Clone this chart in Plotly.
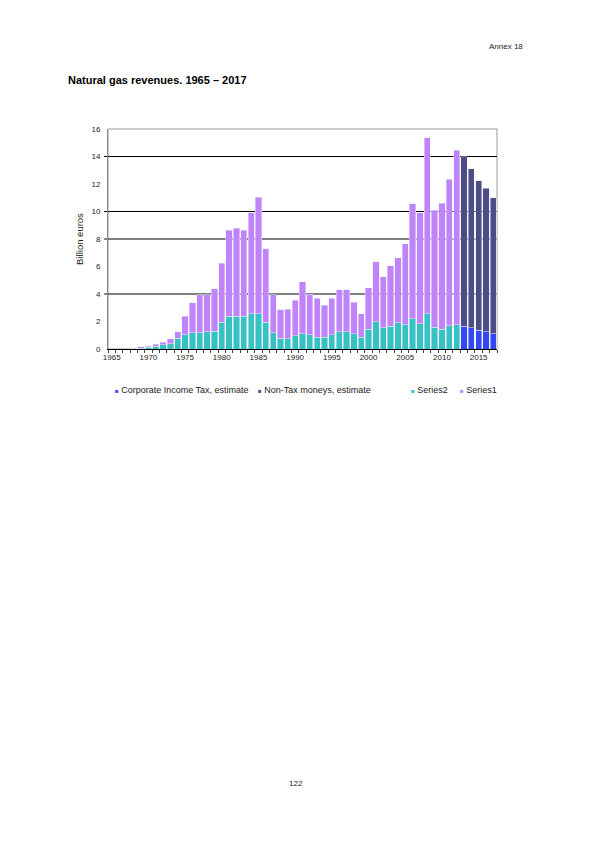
import plotly.graph_objects as go

# ---- data (billion euros) ----
years_actual = list(range(1965, 2013))
series2 = [0, 0, 0, 0.03, 0.07, 0.12, 0.2, 0.3, 0.4, 0.8,
           1.05, 1.2, 1.2, 1.25, 1.3, 1.95, 2.4, 2.4, 2.4, 2.55,
           2.55, 1.95, 1.2, 0.8, 0.75, 0.95, 1.1, 1.05, 0.85, 0.85,
           1.05, 1.25, 1.25, 1.1, 0.85, 1.45, 2.0, 1.55, 1.65, 1.9,
           1.75, 2.2, 1.85, 2.55, 1.6, 1.45, 1.7, 1.75]
series1 = [0, 0, 0, 0.04, 0.08, 0.08, 0.15, 0.2, 0.35, 0.45,
           1.35, 2.15, 2.75, 2.7, 3.1, 4.3, 6.25, 6.4, 6.25, 7.35,
           8.5, 5.35, 2.75, 2.05, 2.15, 2.6, 3.8, 2.95, 2.85, 2.35,
           2.65, 3.05, 3.05, 2.3, 1.7, 3.0, 4.35, 3.7, 4.4, 4.75,
           5.9, 8.35, 8.05, 12.8, 8.5, 9.15, 10.65, 12.7]

years_estimate = list(range(2013, 2018))
corporate_tax_est = [1.65, 1.55, 1.35, 1.25, 1.1]
non_tax_est = [12.35, 11.55, 10.9, 10.45, 9.9]

x_tick_years = list(range(1965, 2020, 5))
y_ticks = list(range(0, 18, 2))
gridline_values = [4, 8, 10, 14]  # only these lines show in the scan

FONT = "Liberation Sans, Arial, sans-serif"
COLORS = {
    "Corporate Income Tax, estimate": "#3347F5",
    "Non-Tax moneys, estimate": "#4E4C84",
    "Series2": "#36C2C2",
    "Series1": "#C083FA",
}

# plot area in page pixels; the page body adds an 8px margin
OFF = 8
L, R, T, B = 108, 497, 129, 349


def px_x(x):
    return (x - L) / (R - L)


def px_y(y):
    return (B - y) / (B - T)


fig = go.Figure()
fig.add_trace(go.Bar(x=years_estimate, y=corporate_tax_est,
                     name="Corporate Income Tax, estimate",
                     marker_color=COLORS["Corporate Income Tax, estimate"]))
fig.add_trace(go.Bar(x=years_estimate, y=non_tax_est,
                     name="Non-Tax moneys, estimate",
                     marker_color=COLORS["Non-Tax moneys, estimate"]))
fig.add_trace(go.Bar(x=years_actual, y=series2, name="Series2",
                     marker_color=COLORS["Series2"]))
fig.add_trace(go.Bar(x=years_actual, y=series1, name="Series1",
                     marker_color=COLORS["Series1"]))

# gridlines + frame
shapes = [dict(type="rect", xref="paper", yref="paper", x0=0, x1=1, y0=0, y1=1,
               line=dict(color="#999999", width=1), layer="below")]
for g in gridline_values:
    shapes.append(dict(type="line", xref="paper", yref="y", x0=-0.01, x1=1, y0=g, y1=g,
                       line=dict(color="black", width=1), layer="below"))

annotations = [
    dict(text="Annex 18", xref="paper", yref="paper", x=px_x(525), y=px_y(47),
         xanchor="right", yanchor="middle", showarrow=False,
         font=dict(size=8, family=FONT, color="#222222")),
    dict(text="<b>Natural gas revenues. 1965 – 2017</b>", xref="paper", yref="paper",
         x=px_x(66), y=px_y(80), xanchor="left", yanchor="middle", showarrow=False,
         font=dict(size=11, family=FONT, color="black")),
    dict(text="122", xref="paper", yref="paper", x=px_x(296), y=px_y(783),
         xanchor="center", yanchor="middle", showarrow=False,
         font=dict(size=8, family=FONT, color="#222222")),
]

# legend laid out like the Excel one (small square + label)
legend_x = [113, 256, 409, 458]
for (name, col), lx in zip(COLORS.items(), legend_x):
    annotations.append(dict(
        text=f'<span style="color:{col};font-size:6px">■</span> {name}',
        xref="paper", yref="paper", x=px_x(lx), y=px_y(390),
        xanchor="left", yanchor="middle", showarrow=False,
        font=dict(size=9, family=FONT, color="#222222")))

fig.update_layout(
    width=595 - OFF, height=842 - OFF,
    margin=dict(l=L - OFF, r=595 - R, t=T - OFF, b=842 - B, pad=0),
    paper_bgcolor="white", plot_bgcolor="white",
    barmode="stack", bargap=0.15,
    font=dict(family=FONT, size=8, color="#222222"),
    shapes=shapes,
    showlegend=False,
    annotations=annotations,
)

fig.update_xaxes(
    range=[1964.5, 2017.5], tickmode="array", tickvals=x_tick_years,
    ticks="", showgrid=False, zeroline=False,
    showline=True, linecolor="black", linewidth=1,
    minor=dict(ticks="outside", tick0=1964.5, dtick=1, ticklen=3, tickcolor="#444444"),
    tickfont=dict(size=8),
)
fig.update_yaxes(
    range=[0, 16], tickmode="array", tickvals=y_ticks,
    showgrid=False, zeroline=False,
    showline=True, linecolor="#888888", linewidth=1,
    ticks="", tickfont=dict(size=8), ticklabelstandoff=5,
    title=dict(text="Billion euros", font=dict(size=9.5), standoff=6),
)

fig.write_html("out.html")
